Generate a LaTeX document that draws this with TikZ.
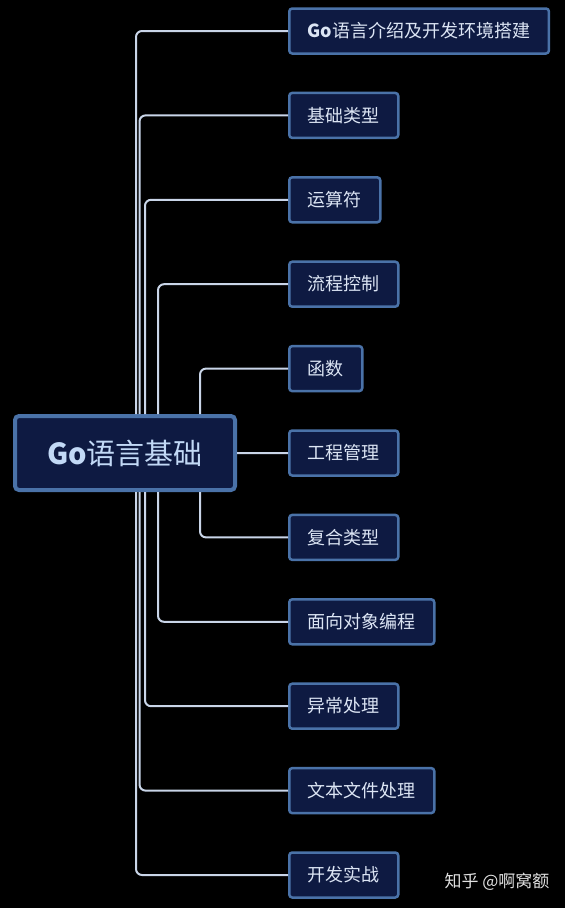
\documentclass[tikz,border=0pt]{standalone}
\usepackage{fontspec}
\setmainfont{Noto Sans CJK SC}
\usetikzlibrary{positioning}

\definecolor{boxfill}{HTML}{0E1A42}
\definecolor{boxline}{HTML}{4A72A8}
\definecolor{wirecol}{HTML}{C9D5E8}
\definecolor{leaftext}{HTML}{DCE5F4}
\definecolor{roottext}{HTML}{C2D9F6}

\tikzset{
  topic/.style={rectangle, draw=boxline, line width=4pt, fill=boxfill, rounded corners=4pt,
    text=roottext, font=\fontsize{29}{32}\selectfont, minimum width=220pt, minimum height=74pt,
    text height=25pt, text depth=3pt},
  leaf/.style={rectangle, draw=boxline, line width=2.5pt, fill=boxfill, rounded corners=3pt,
    text=leaftext, font=\fontsize{18}{20}\selectfont, minimum height=45pt, inner xsep=18.5pt,
    text height=15.5pt, text depth=2pt},
  wire/.style={draw=wirecol, line width=2pt, rounded corners=6pt},
}

\begin{document}
\begin{tikzpicture}[x=1pt, y=1pt, node distance=84.4pt]
    \fill[black] (0,0) rectangle (565,-908);
    \useasboundingbox (0,0) rectangle (565,-908);

    \node[topic] (root) at (125,-453) {\textbf{Go}语言基础};

    \node[leaf, anchor=west] (intro) at (288,-31) {\textbf{Go}语言介绍及开发环境搭建};
    \node[leaf, below=of intro.west, anchor=west] (basic) {基础类型};
    \node[leaf, below=of basic.west, anchor=west] (oper) {运算符};
    \node[leaf, below=of oper.west, anchor=west] (flow) {流程控制};
    \node[leaf, below=of flow.west, anchor=west] (func) {函数};
    \node[leaf, below=of func.west, anchor=west] (proj) {工程管理};
    \node[leaf, below=of proj.west, anchor=west] (comp) {复合类型};
    \node[leaf, below=of comp.west, anchor=west] (oop) {面向对象编程};
    \node[leaf, below=of oop.west, anchor=west] (excp) {异常处理};
    \node[leaf, below=of excp.west, anchor=west] (file) {文本文件处理};
    \node[leaf, below=of file.west, anchor=west] (prac) {开发实战};

    % trunks
    \coordinate (ta) at (136,0);
    \coordinate (tb) at (139.5,0);
    \coordinate (tc) at (145,0);
    \coordinate (td) at (158,0);
    \coordinate (te) at (200,0);

    \draw[wire] (root.north -| ta) |- (intro.west);
    \draw[wire] (root.north -| tb) |- (basic.west);
    \draw[wire] (root.north -| tc) |- (oper.west);
    \draw[wire] (root.north -| td) |- (flow.west);
    \draw[wire] (root.north -| te) |- (func.west);
    \draw[wire] (root.east) -- (proj.west);
    \draw[wire] (root.south -| te) |- (comp.west);
    \draw[wire] (root.south -| td) |- (oop.west);
    \draw[wire] (root.south -| tc) |- (excp.west);
    \draw[wire] (root.south -| tb) |- (file.west);
    \draw[wire] (root.south -| ta) |- (prac.west);

    \node[text=white!88!black, font=\fontsize{17}{19}\selectfont] (mark) at (497,-882) {知乎 @啊窝额};
\end{tikzpicture}
\end{document}
